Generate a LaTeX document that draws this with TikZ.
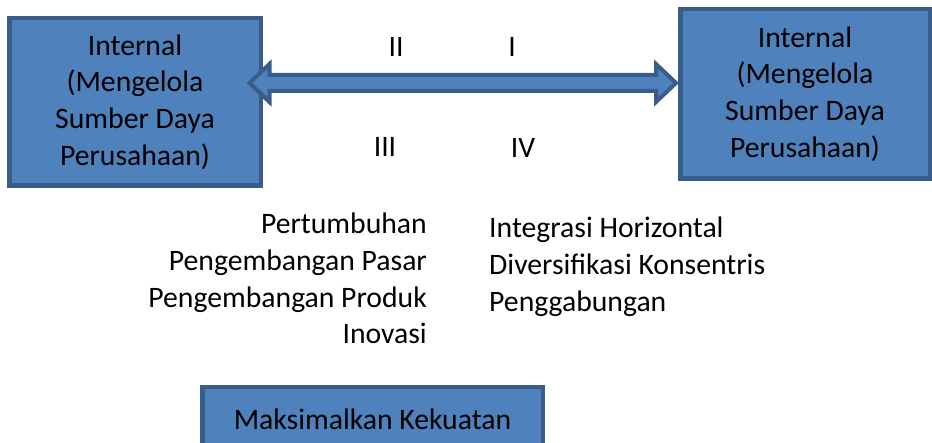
\documentclass[tikz,border=0pt]{standalone}
\usepackage{fontspec}
\setmainfont{Carlito}
\usetikzlibrary{calc}
\definecolor{boxfill}{HTML}{4F81BD}
\definecolor{boxline}{HTML}{385D8A}
\tikzset{
  box/.style={draw=boxline, fill=boxfill, line width=4.5pt, align=center, inner sep=0pt},
  blockarrow/.style={draw=boxline, fill=boxfill, line width=4pt, line join=miter},
  listtext/.style={inner sep=0pt}
}
\begin{document}
\begin{tikzpicture}[x=1pt, y=1pt, font=\fontsize{29.7}{36.8}\selectfont]
    \useasboundingbox (0, 0) rectangle (932, 442);
    % Left Box
    \node[box, minimum width=251.5pt, minimum height=167.5pt] (lbox) at (135, 340)
      {Internal\\(Mengelola\\Sumber Daya\\Perusahaan)};
    % Right Box
    \node[box, minimum width=249.5pt, minimum height=169.5pt] (rbox) at (805, 348)
      {Internal\\(Mengelola\\Sumber Daya\\Perusahaan)};

    % Double Arrow
    \coordinate (ltip) at (249.5, 359);
    \coordinate (rtip) at (676, 359);
    \draw[blockarrow] (ltip) -- ++(20, 19) -- ++(0, -11)
      -- ($(rtip)+(-20, 8)$) -- ++(0, 11) -- (rtip) -- ++(-20, -19)
      -- ++(0, 11) -- ($(ltip)+(20, -8)$) -- ++(0, -11) -- cycle;

    % Quadrants
    \node (q2) at (396, 395) {II};
    \node (q1) at (512, 395) {I};
    \node (q3) at (385, 295) {III};
    \node (q4) at (523, 294) {IV};

    % Strategy Lists
    \node[listtext, align=right, anchor=east] (grow) at (427, 163.5)
      {Pertumbuhan\\Pengembangan Pasar\\Pengembangan Produk\\Inovasi};
    \node[listtext, align=left, anchor=west] (integ) at (489, 175)
      {Integrasi Horizontal\\Diversifikasi Konsentris\\Penggabungan};

    % Bottom Box
    \node[box, minimum width=340.5pt, minimum height=64pt] (maks) at (372.5, 22.75)
      {Maksimalkan Kekuatan};
  \end{tikzpicture}
\end{document}
